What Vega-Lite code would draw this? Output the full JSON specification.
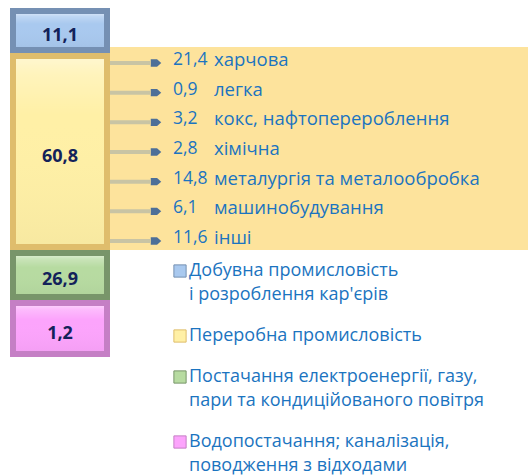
{
  "$schema": "https://vega.github.io/schema/vega-lite/v6.json",
  "width": 528,
  "height": 475,
  "padding": 0,
  "autosize": {"type": "none"},
  "background": "white",
  "config": {
    "view": {"stroke": null},
    "font": "Open Sans",
    "locale": {"number": {"decimal": ",", "thousands": " ", "grouping": [3], "currency": ["", ""]}}
  },
  "datasets": {
    "sectors": [
      {"idx": 1, "sector": "Добувна промисловість\nі розроблення кар'єрів", "share": 11.1},
      {"idx": 2, "sector": "Переробна промисловість", "share": 60.8},
      {"idx": 3, "sector": "Постачання електроенергії, газу,\nпари та кондиційованого повітря", "share": 26.9},
      {"idx": 4, "sector": "Водопостачання; каналізація,\nповодження  з відходами", "share": 1.2}
    ],
    "manufacturing": [
      {"idx": 1, "branch": "харчова", "share": 21.4},
      {"idx": 2, "branch": "легка", "share": 0.9},
      {"idx": 3, "branch": "кокс, нафтоперероблення", "share": 3.2},
      {"idx": 4, "branch": "хімічна", "share": 2.8},
      {"idx": 5, "branch": "металургія та металообробка", "share": 14.8},
      {"idx": 6, "branch": "машинобудування", "share": 6.1},
      {"idx": 7, "branch": "інші", "share": 11.6}
    ]
  },
  "resolve": {"scale": {"y": "independent"}},
  "layer": [
    {
      "data": {"name": "sectors"},
      "transform": [
        {"stack": "share", "groupby": [], "sort": [{"field": "idx", "order": "ascending"}], "as": ["s0", "s1"]},
        {"filter": "datum.idx == 2"}
      ],
      "mark": {"type": "rect", "fill": "#fde39c", "yOffset": -6},
      "encoding": {
        "x": {"datum": "Промисловість", "type": "nominal", "scale": {"range": [10, 110], "paddingInner": 0, "paddingOuter": 0}, "axis": null},
        "x2": {"value": "width"},
        "y": {"field": "s0", "type": "quantitative", "scale": {"domain": [0, 11.1, 71.9, 98.8, 100], "range": [8, 53, 250, 300, 357], "zero": false, "nice": false}, "axis": null},
        "y2": {"field": "s1"}
      }
    },
    {
      "data": {"name": "manufacturing"},
      "mark": {"type": "rule", "stroke": "#c9c4a4", "strokeWidth": 4, "yOffset": 3},
      "encoding": {
        "x": {"value": 108},
        "x2": {"value": 150},
        "y": {"field": "branch", "type": "nominal", "sort": {"field": "idx"}, "scale": {"type": "point", "range": [60, 238], "padding": 0}, "axis": null}
      }
    },
    {
      "data": {"name": "sectors"},
      "transform": [
        {"stack": "share", "groupby": [], "sort": [{"field": "idx", "order": "ascending"}], "as": ["s0", "s1"]}
      ],
      "encoding": {
        "x": {"datum": "Промисловість", "type": "nominal", "scale": {"range": [10, 110], "paddingInner": 0, "paddingOuter": 0}, "axis": null}
      },
      "layer": [
        {
          "mark": {"type": "bar", "width": {"band": 0.94}, "strokeWidth": 6, "yOffset": 3, "y2Offset": -3},
          "encoding": {
            "y": {"field": "s0", "type": "quantitative", "scale": {"domain": [0, 11.1, 71.9, 98.8, 100], "range": [8, 53, 250, 300, 357], "zero": false, "nice": false}, "axis": null},
            "y2": {"field": "s1"},
            "fill": {
              "field": "sector", "type": "nominal",
              "sort": ["Добувна промисловість\nі розроблення кар'єрів", "Переробна промисловість", "Постачання електроенергії, газу,\nпари та кондиційованого повітря", "Водопостачання; каналізація,\nповодження  з відходами"],
              "scale": {"range": ["#a9c9ef", "#fff0a6", "#b7dba1", "#fca4fc"]},
              "legend": {
                "orient": "none", "legendX": 171, "legendY": 262, "title": null,
                "symbolType": "square", "symbolSize": 150, "symbolStrokeWidth": 1,
                "labelFont": "Open Sans", "labelFontSize": 18, "labelColor": "#1b74c0",
                "labelLimit": 600, "labelOffset": 0, "rowPadding": 23,
                "labelExpr": "split(datum.label, '\\n')",
                "encode": {
                  "labels": {"update": {"lineHeight": {"value": 24}}},
                  "symbols": {
                    "enter": {"fill": {"scale": "stroke", "field": "value"}},
                    "update": {"fill": {"scale": "stroke", "field": "value"}, "stroke": {"scale": "stroke", "field": "value"}}
                  }
                }
              }
            },
            "stroke": {
              "field": "sector", "type": "nominal",
              "sort": ["Добувна промисловість\nі розроблення кар'єрів", "Переробна промисловість", "Постачання електроенергії, газу,\nпари та кондиційованого повітря", "Водопостачання; каналізація,\nповодження  з відходами"],
              "scale": {"range": ["#7590b3", "#dfbd6c", "#78956a", "#c57fc5"]},
              "legend": null
            }
          }
        },
        {
          "mark": {
            "type": "bar", "width": {"band": 0.88}, "yOffset": 6, "y2Offset": -6,
            "fill": {"gradient": "linear", "x1": 0, "y1": 0, "x2": 0, "y2": 1, "stops": [
              {"offset": 0, "color": "rgba(255,255,255,0.45)"},
              {"offset": 0.08, "color": "rgba(255,255,255,0.25)"},
              {"offset": 0.3, "color": "rgba(255,255,255,0)"},
              {"offset": 1, "color": "rgba(0,0,0,0.03)"}
            ]}
          },
          "encoding": {
            "y": {"field": "s0", "type": "quantitative", "scale": {"domain": [0, 11.1, 71.9, 98.8, 100], "range": [8, 53, 250, 300, 357], "zero": false, "nice": false}, "axis": null},
            "y2": {"field": "s1"}
          }
        },
        {
          "transform": [{"calculate": "(datum.s0 + datum.s1) / 2", "as": "mid"}],
          "mark": {"type": "text", "fontWeight": "bold", "fontSize": 18, "color": "#13225a", "dy": 5, "font": "Open Sans"},
          "encoding": {
            "y": {"field": "mid", "type": "quantitative", "scale": {"domain": [0, 11.1, 71.9, 98.8, 100], "range": [8, 53, 250, 300, 357], "zero": false, "nice": false}, "axis": null},
            "text": {"field": "share", "type": "quantitative", "format": ".1f"}
          }
        }
      ]
    },
    {
      "data": {"name": "manufacturing"},
      "encoding": {
        "y": {"field": "branch", "type": "nominal", "sort": {"field": "idx"}, "scale": {"type": "point", "range": [60, 238], "padding": 0}, "axis": null}
      },
      "layer": [
        {
          "mark": {"type": "point", "shape": "M-1,-0.7L0.2,-0.7L1,0L0.2,0.7L-1,0.7Z", "filled": true, "size": 110, "color": "#4d6f98", "opacity": 1, "yOffset": 3},
          "encoding": {"x": {"value": 156}}
        },
        {
          "mark": {"type": "text", "align": "left", "fontSize": 17.5, "color": "#1b74c0", "font": "Open Sans"},
          "encoding": {"x": {"value": 173}, "text": {"field": "share", "type": "quantitative", "format": ".1f"}}
        },
        {
          "mark": {"type": "text", "align": "left", "fontSize": 18.5, "color": "#1b74c0", "font": "Open Sans"},
          "encoding": {"x": {"value": 214}, "text": {"field": "branch", "type": "nominal"}}
        }
      ]
    }
  ]
}
